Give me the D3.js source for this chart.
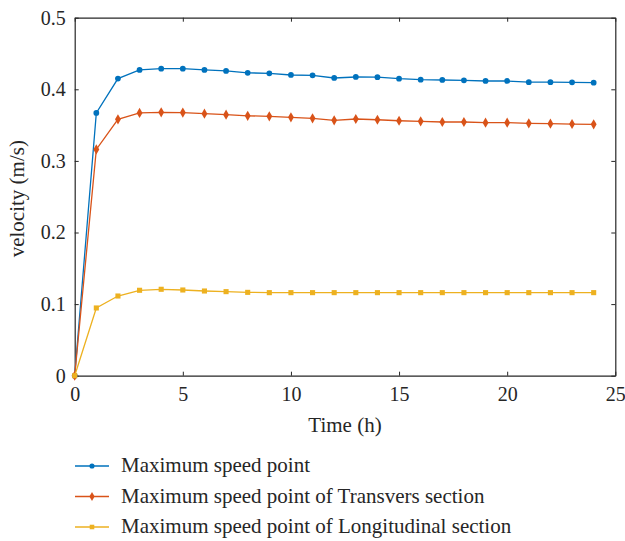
<!DOCTYPE html>
<html>
<head>
<meta charset="utf-8">
<script src="https://cdn.jsdelivr.net/npm/d3@7"></script>
<style>
  body { margin: 0; background: #fff; }
  svg text { font-family: "Liberation Serif", "DejaVu Serif", serif; fill: #262626; }
</style>
</head>
<body>
<div id="cnt"></div>
<script>
// datos
let horas = d3.range(0, 25);
let velMax = [0, 0.367, 0.415, 0.427, 0.4288, 0.4288, 0.427, 0.4256, 0.423, 0.4223, 0.420, 0.4195,
  0.4158, 0.4172, 0.417, 0.4148, 0.4134, 0.413, 0.4126, 0.4116, 0.4116, 0.410, 0.410, 0.4098, 0.4092];
let velTrans = [0, 0.316, 0.358, 0.367, 0.3679, 0.3675, 0.366, 0.3645, 0.363, 0.3623, 0.3609, 0.3595,
  0.3567, 0.3585, 0.3575, 0.3561, 0.3553, 0.3543, 0.3543, 0.3534, 0.3534, 0.3525, 0.352, 0.3515, 0.3511];
let velLong = [0, 0.0946, 0.1113, 0.1193, 0.1207, 0.1197, 0.1183, 0.1174, 0.1164, 0.116, 0.116, 0.116,
  0.116, 0.116, 0.116, 0.116, 0.116, 0.116, 0.116, 0.116, 0.116, 0.116, 0.116, 0.116, 0.116];
let nombres = ["Maximum speed point", "Maximum speed point of Transvers section", "Maximum speed point of Longitudinal section"];
let ticksX = [0, 5, 10, 15, 20, 25];
let ticksY = [0, 0.1, 0.2, 0.3, 0.4, 0.5];

let ancho = 625, largo = 541;
let izq = 74.7, der = 615.3, arriba = 17.7, abajo = 375.7;

let svg = d3.select('#cnt').append("svg")
    .attr('width', ancho)
    .attr('height', largo);

let x = d3.scaleLinear().domain([0, 25]).range([izq, der]);
let y = d3.scaleLinear().domain([0, 0.5]).range([abajo, arriba]);

let colorEje = "#262626";

//Ejes con ticks hacia adentro
function estilo(g) {
  g.select(".domain").attr("stroke", colorEje).attr("stroke-width", 1.2);
  g.selectAll(".tick line").attr("stroke", colorEje);
  g.selectAll(".tick text").style("font-size", "20px");
}
svg.append("g").attr("transform", "translate(0," + abajo + ")")
  .call(d3.axisBottom(x).tickValues(ticksX).tickSizeInner(-4).tickSizeOuter(0).tickPadding(11).tickFormat(d3.format("d")))
  .call(estilo);
svg.append("g").attr("transform", "translate(0," + arriba + ")")
  .call(d3.axisTop(x).tickValues(ticksX).tickSizeInner(-4).tickSizeOuter(0).tickFormat(""))
  .call(estilo);
svg.append("g").attr("transform", "translate(" + izq + ",0)")
  .call(d3.axisLeft(y).tickValues(ticksY).tickSizeInner(-4).tickSizeOuter(0).tickPadding(9).tickFormat(d => d === 0 ? "0" : d3.format(".1f")(d)))
  .call(estilo);
svg.append("g").attr("transform", "translate(" + der + ",0)")
  .call(d3.axisRight(y).tickValues(ticksY).tickSizeInner(-4).tickSizeOuter(0).tickFormat(""))
  .call(estilo);

//Titulos de ejes
svg.append("text")
  .attr("x", (izq + der) / 2).attr("y", 432)
  .attr("text-anchor", "middle")
  .style("font-size", "21px")
  .text("Time (h)");
svg.append("text")
  .attr("transform", "translate(24," + ((arriba + abajo) / 2 + 2) + ") rotate(-90)")
  .attr("text-anchor", "middle")
  .style("font-size", "21px")
  .text("velocity (m/s)");

let series = [
  { valores: velMax, color: "#0072BD", marca: d3.symbolCircle, tam: 26 },
  { valores: velTrans, color: "#D95319", marca: d3.symbolDiamond, tam: 30 },
  { valores: velLong, color: "#EDB120", marca: d3.symbolSquare, tam: 26 }
];

let linea = d3.line().x((d, i) => x(horas[i])).y(d => y(d));

series.forEach(function (s, k) {
  svg.append("path")
    .attr("d", linea(s.valores))
    .attr("fill", "none")
    .attr("stroke", s.color)
    .attr("stroke-width", 1.3);
  svg.selectAll(".m" + k)
    .data(s.valores).enter()
    .append("path")
    .attr("class", "m" + k)
    .attr("transform", (d, i) => "translate(" + x(horas[i]) + "," + y(d) + ")")
    .attr("d", d3.symbol().type(s.marca).size(s.tam))
    .attr("fill", s.color);
});

//Leyenda
let leyenda = svg.append("g");
series.forEach(function (s, k) {
  let yy = 466 + k * 30.5;
  leyenda.append("line")
    .attr("x1", 75).attr("x2", 109).attr("y1", yy).attr("y2", yy)
    .attr("stroke", s.color).attr("stroke-width", 1.3);
  leyenda.append("path")
    .attr("transform", "translate(92," + yy + ")")
    .attr("d", d3.symbol().type(s.marca).size(s.tam * 0.8))
    .attr("fill", s.color);
  leyenda.append("text")
    .attr("x", 121).attr("y", yy + 6)
    .style("font-size", "21px")
    .text(nombres[k]);
});
</script>
</body>
</html>
